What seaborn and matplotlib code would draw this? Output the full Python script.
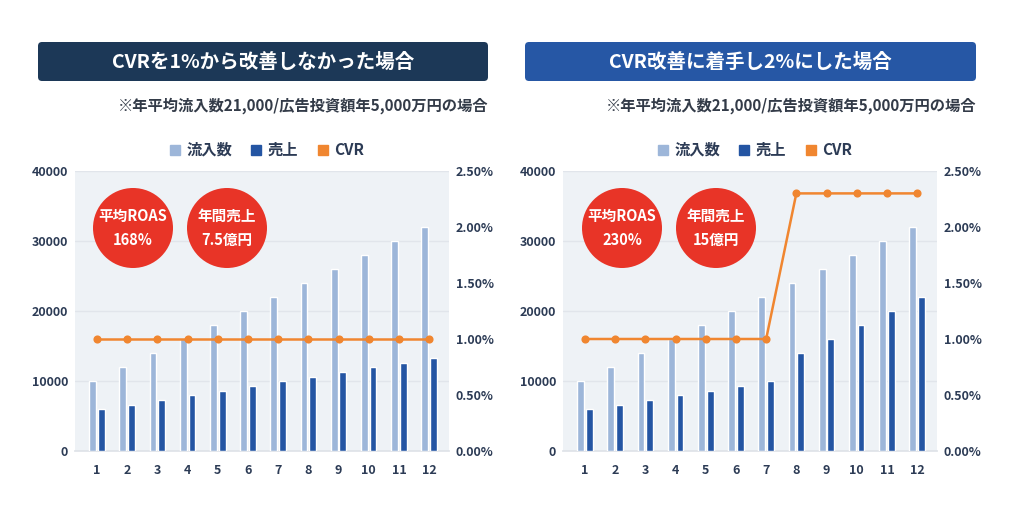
import numpy as np
import pandas as pd
import seaborn as sns
import matplotlib
matplotlib.use("Agg")
import matplotlib.pyplot as plt
from matplotlib.patches import FancyBboxPatch, Circle
from matplotlib.lines import Line2D
from matplotlib.ticker import FuncFormatter

# ---------------- data ----------------
months = [1, 2, 3, 4, 5, 6, 7, 8, 9, 10, 11, 12]
inflow = [10000, 12000, 14000, 16000, 18000, 20000, 22000, 24000, 26000, 28000, 30000, 32000]
sales_a = [6000, 6600, 7300, 8000, 8600, 9300, 10000, 10600, 11300, 12000, 12600, 13300]
sales_b = [6000, 6600, 7300, 8000, 8600, 9300, 10000, 14000, 16000, 18000, 20000, 22000]
cvr_a = [1.0, 1.0, 1.0, 1.0, 1.0, 1.0, 1.0, 1.0, 1.0, 1.0, 1.0, 1.0]
cvr_b = [1.0, 1.0, 1.0, 1.0, 1.0, 1.0, 1.0, 2.3, 2.3, 2.3, 2.3, 2.3]
series_names = ["流入数", "売上", "CVR"]
titles = ["CVRを1%から改善しなかった場合", "CVR改善に着手し2%にした場合"]
subtitle = "※年平均流入数21,000/広告投資額年5,000万円の場合"
badge_roas = ["平均ROAS\n168%", "平均ROAS\n230%"]
badge_sales = ["年間売上\n7.5億円", "年間売上\n15億円"]
left_ticks = [0, 10000, 20000, 30000, 40000]
right_ticks = [0.0, 0.5, 1.0, 1.5, 2.0, 2.5]

# ---------------- style ----------------
sns.set_theme(style="white")
plt.rcParams["font.family"] = ["Noto Sans CJK JP", "DejaVu Sans"]

LIGHT = "#9db6d9"
DARK = "#2455a3"
ORANGE = "#f08630"
NAVY_TXT = "#2c3b55"
BG = "#eef2f6"
GRID = "#e1e5eb"
RED = "#e83427"
TITLE_COLORS = ["#1c3857", "#2657a5"]

W, H = 1024, 507
fig = plt.figure(figsize=(W / 100, H / 100), dpi=100)
fig.patch.set_facecolor("white")

def fx(px):
    return px / W

def fy(py):
    return 1 - py / H

panels = [
    dict(ax_left=75, title_x=(38, 488), sales=sales_a, cvr=cvr_a, circles=(133, 227)),
    dict(ax_left=563, title_x=(525, 976), sales=sales_b, cvr=cvr_b, circles=(622, 716)),
]

ax_w, ax_top, ax_bot = 374, 171, 451

for i, p in enumerate(panels):
    df = pd.DataFrame({
        "month": months * 2,
        "value": inflow + p["sales"],
        "series": [series_names[0]] * 12 + [series_names[1]] * 12,
    })
    ax = fig.add_axes([fx(p["ax_left"]), fy(ax_bot), ax_w / W, (ax_bot - ax_top) / H])
    ax.set_facecolor(BG)
    sns.barplot(data=df, x="month", y="value", hue="series",
                palette=[LIGHT, DARK], width=0.58, gap=0.22,
                saturation=1, legend=False, ax=ax, zorder=3)
    ax.set_ylim(0, 40000)
    ax.set_yticks(left_ticks)
    ax.yaxis.set_major_formatter(FuncFormatter(lambda v, _: f"{int(v)}"))
    ax.grid(axis="y", color=GRID, linewidth=1, zorder=0)
    ax.set_axisbelow(True)
    for s in ax.spines.values():
        s.set_visible(False)
    ax.spines["bottom"].set_visible(True)
    ax.spines["bottom"].set_color("#dfe3e8")
    ax.set_xlabel("")
    ax.set_ylabel("")
    ax.tick_params(axis="both", length=0, labelsize=9, colors=NAVY_TXT, pad=5)
    for lab in ax.get_xticklabels() + ax.get_yticklabels():
        lab.set_fontweight("bold")
    ax.tick_params(axis="x", pad=9)

    ax2 = ax.twinx()
    dfl = pd.DataFrame({"month": months, "cvr": p["cvr"]})
    sns.pointplot(data=dfl, x="month", y="cvr", color=ORANGE, markers="o",
                  markersize=4.5, linewidth=1.8, ax=ax2)
    ax2.set_ylim(0, 2.5)
    ax2.set_yticks(right_ticks)
    ax2.yaxis.set_major_formatter(FuncFormatter(lambda v, _: f"{v:.2f}%"))
    ax2.set_ylabel("")
    ax2.set_xlabel("")
    for s in ax2.spines.values():
        s.set_visible(False)
    ax2.tick_params(axis="y", length=0, labelsize=9, colors=NAVY_TXT, pad=5)
    for lab in ax2.get_yticklabels():
        lab.set_fontweight("bold")
    ax.set_xlim(-0.73, 11.66)
    ax2.set_xlim(-0.73, 11.66)

    # legend
    handles = [Line2D([], [], marker="s", linestyle="", color=c, markersize=7)
               for c in (LIGHT, DARK, ORANGE)]
    cx = p["ax_left"] + 190
    fig.legend(handles, series_names, loc="center", ncol=3, frameon=False,
               bbox_to_anchor=(fx(cx), fy(150)), handletextpad=0.15,
               columnspacing=1.0, handlelength=1.2,
               prop={"size": 11, "weight": "bold"},
               labelcolor=NAVY_TXT)

# overlay for title boxes and badges
ov = fig.add_axes([0, 0, 1, 1], zorder=10)
ov.set_xlim(0, W)
ov.set_ylim(H, 0)
ov.axis("off")
ov.patch.set_alpha(0)

for i, p in enumerate(panels):
    x0, x1 = p["title_x"]
    box = FancyBboxPatch((x0 + 4, 42 + 4), x1 - x0 - 8, 39 - 8,
                         boxstyle="round,pad=4", facecolor=TITLE_COLORS[i],
                         edgecolor="none")
    ov.add_patch(box)
    ov.text((x0 + x1) / 2, 62, titles[i], color="white", fontsize=14,
            fontweight="bold", ha="center", va="center")
    ov.text(x1, 106, subtitle, color="#333b48", fontsize=11,
            fontweight="bold", ha="right", va="center")
    for cx, txt in zip(p["circles"], (badge_roas[i], badge_sales[i])):
        ov.add_patch(Circle((cx, 228), 40, facecolor=RED, edgecolor="none"))
        ov.text(cx, 228, txt, color="white", fontsize=10.5, fontweight="bold",
                ha="center", va="center", linespacing=1.6)

fig.savefig("out.png", dpi=100, facecolor="white")
